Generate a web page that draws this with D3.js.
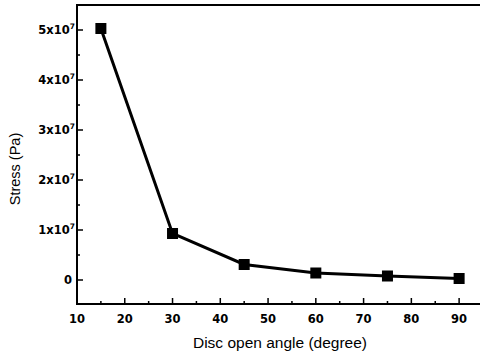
<!DOCTYPE html>
<html>
<head>
<meta charset="utf-8">
<script src="https://cdn.jsdelivr.net/npm/d3@7"></script>
<style>
  body { margin: 0; background: #fff; }
  svg { display: block; }
  .tick-label { font-family: "DejaVu Sans", sans-serif; font-weight: bold; font-size: 11.5px; fill: #000; }
  .axis-title { font-family: "Liberation Sans", Arial, sans-serif; fill: #000; }
</style>
</head>
<body>
<svg id="chart" width="480" height="354"></svg>
<script>
// disc open angle (degree) vs stress (Pa)
const angles = [15, 30, 45, 60, 75, 90];
const stress = [5.03e7, 0.93e7, 0.31e7, 0.14e7, 0.08e7, 0.03e7];
const xTicks = [10, 20, 30, 40, 50, 60, 70, 80, 90];
const yTicks = [0, 1e7, 2e7, 3e7, 4e7, 5e7];
const yTickLabels = ["0", "1x10", "2x10", "3x10", "4x10", "5x10"];

const svg = d3.select("#chart");
const plotLeft = 77, plotTop = 5, plotBottom = 304, plotRight = 483;

const x = d3.scaleLinear().domain([10, 95]).range([plotLeft, plotRight]);
const y = d3.scaleLinear().domain([-0.48e7, 5.5e7]).range([plotBottom, plotTop]);

// minor ticks
const xMinor = d3.range(15, 95, 10);
const yMinor = d3.range(0.5e7, 5.5e7, 1e7);

const g = svg.append("g");

// frame: top line
g.append("line")
  .attr("x1", plotLeft).attr("x2", plotRight)
  .attr("y1", plotTop).attr("y2", plotTop)
  .attr("stroke", "#000").attr("stroke-width", 2);

// bottom axis
g.append("line")
  .attr("x1", plotLeft - 1).attr("x2", plotRight)
  .attr("y1", plotBottom).attr("y2", plotBottom)
  .attr("stroke", "#000").attr("stroke-width", 2);
// left axis
g.append("line")
  .attr("x1", plotLeft).attr("x2", plotLeft)
  .attr("y1", plotTop - 1).attr("y2", plotBottom + 1)
  .attr("stroke", "#000").attr("stroke-width", 2);

g.selectAll(".xmaj").data(xTicks).join("line")
  .attr("x1", d => x(d)).attr("x2", d => x(d))
  .attr("y1", plotBottom).attr("y2", plotBottom - 6)
  .attr("stroke", "#000").attr("stroke-width", 1.5);
g.selectAll(".xmin").data(xMinor).join("line")
  .attr("x1", d => x(d)).attr("x2", d => x(d))
  .attr("y1", plotBottom).attr("y2", plotBottom - 3)
  .attr("stroke", "#000").attr("stroke-width", 1.5);

g.selectAll(".ymaj").data(yTicks).join("line")
  .attr("x1", plotLeft).attr("x2", plotLeft + 6)
  .attr("y1", d => y(d)).attr("y2", d => y(d))
  .attr("stroke", "#000").attr("stroke-width", 1.5);
g.selectAll(".ymin").data(yMinor).join("line")
  .attr("x1", plotLeft).attr("x2", plotLeft + 3)
  .attr("y1", d => y(d)).attr("y2", d => y(d))
  .attr("stroke", "#000").attr("stroke-width", 1.5);

// x tick labels
g.selectAll(".xl").data(xTicks).join("text")
  .attr("class", "tick-label")
  .attr("x", d => x(d))
  .attr("y", 323)
  .attr("text-anchor", "middle")
  .text(d => d);

// y tick labels with superscript
yTicks.forEach((v, i) => {
  const t = g.append("text")
    .attr("class", "tick-label")
    .attr("y", y(v) + 4);
  if (i === 0) {
    t.attr("x", 72).attr("text-anchor", "end").text(yTickLabels[i]);
  } else {
    t.attr("x", 75).attr("text-anchor", "end");
    t.append("tspan").text(yTickLabels[i]);
    t.append("tspan").attr("dy", -5).attr("font-size", "7.5px").text("7");
  }
});

// axis titles
svg.append("text")
  .attr("class", "axis-title")
  .attr("x", 280).attr("y", 348)
  .attr("text-anchor", "middle")
  .attr("font-size", "15.5px")
  .text("Disc open angle (degree)");

svg.append("text")
  .attr("class", "axis-title")
  .attr("transform", "translate(20,169) rotate(-90)")
  .attr("text-anchor", "middle")
  .attr("font-size", "14.5px")
  .text("Stress (Pa)");

// series
const pts = angles.map((a, i) => [a, stress[i]]);
svg.append("path")
  .datum(pts)
  .attr("fill", "none")
  .attr("stroke", "#000")
  .attr("stroke-width", 3)
  .attr("d", d3.line().x(d => x(d[0])).y(d => y(d[1])));

const s = 11;
svg.selectAll(".pt").data(pts).join("rect")
  .attr("x", d => x(d[0]) - s / 2)
  .attr("y", d => y(d[1]) - s / 2)
  .attr("width", s).attr("height", s)
  .attr("fill", "#000");
</script>
</body>
</html>
